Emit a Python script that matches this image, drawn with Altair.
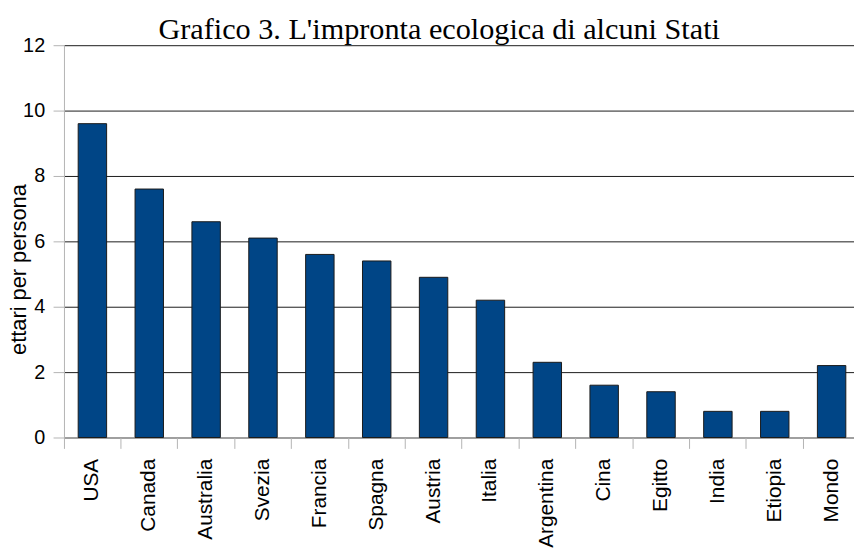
import altair as alt
import pandas as pd

stati = ["USA", "Canada", "Australia", "Svezia", "Francia", "Spagna", "Austria",
         "Italia", "Argentina", "Cina", "Egitto", "India", "Etiopia", "Mondo"]
valori = [9.6, 7.6, 6.6, 6.1, 5.6, 5.4, 4.9, 4.2, 2.3, 1.6, 1.4, 0.8, 0.8, 2.2]
y_ticks = [0, 2, 4, 6, 8, 10, 12]

df = pd.DataFrame({"stato": stati, "valore": valori})

chart = alt.Chart(df).mark_bar(
    color="#004586", stroke="#1a1a1a", strokeWidth=1
).encode(
    x=alt.X("stato:N", sort=stati, title=None,
            scale=alt.Scale(range=[0, 803.6], paddingInner=0.5, paddingOuter=0.25),
            axis=alt.Axis(labelAngle=-90, labelFont="Liberation Sans", labelFontSize=21,
                          labelColor="black", domainColor="#b3b3b3", tickColor="#b3b3b3",
                          tickSize=11, labelPadding=10, bandPosition=-0.5, labelOffset=0,
                          grid=False, labelOverlap=False)),
    y=alt.Y("valore:Q", title="ettari per persona",
            scale=alt.Scale(domain=[0, 12]),
            axis=alt.Axis(values=y_ticks, labelFont="Liberation Sans", labelFontSize=20,
                          labelColor="black", titleFont="Liberation Sans", titleFontSize=22,
                          titleFontWeight="normal", titleColor="black",
                          titleX=-45.5, titleY=226, titleAngle=270, titleAlign="center",
                          titleBaseline="middle",
                          domainColor="#b3b3b3", tickColor="#b3b3b3", tickSize=11,
                          labelPadding=8.5, gridColor="#1a1a1a", gridWidth=1))
).properties(
    width=797.5, height=396,
    title=alt.TitleParams("Grafico 3. L'impronta ecologica di alcuni Stati",
                          font="Liberation Serif", fontSize=30.5, fontWeight="normal",
                          color="black", anchor="middle", dx=-20, offset=0, dy=10),
    padding={"left": 56.5, "top": 35, "right": 0, "bottom": 110},
    autosize=alt.AutoSizeParams(type="none")
).configure_view(stroke=None)

chart.save("out.html", embed_options={"renderer": "svg", "actions": False})
